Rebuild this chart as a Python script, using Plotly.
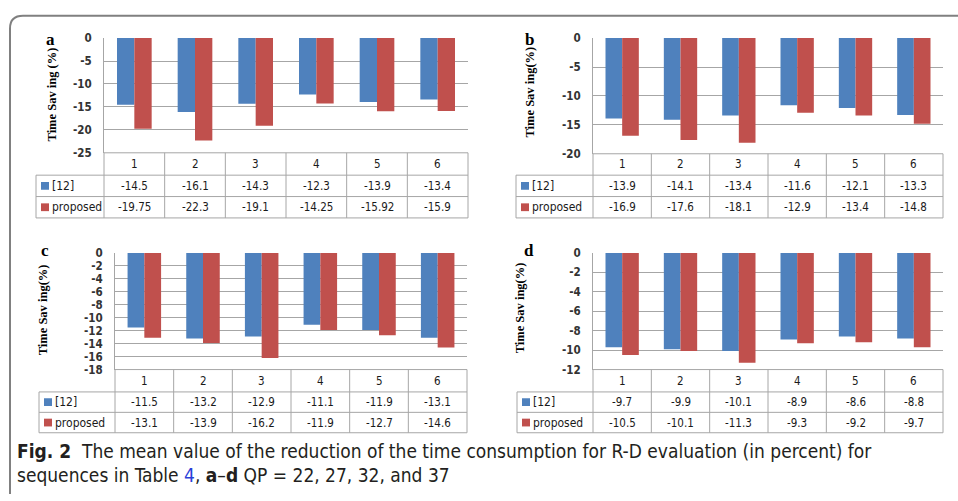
import plotly.graph_objects as go

W, H = 958, 501

categories = [1, 2, 3, 4, 5, 6]
series_names = ["[12]", "proposed"]

a_ref = [-14.5, -16.1, -14.3, -12.3, -13.9, -13.4]
a_prop = [-19.75, -22.3, -19.1, -14.25, -15.92, -15.9]
b_ref = [-13.9, -14.1, -13.4, -11.6, -12.1, -13.3]
b_prop = [-16.9, -17.6, -18.1, -12.9, -13.4, -14.8]
c_ref = [-11.5, -13.2, -12.9, -11.1, -11.9, -13.1]
c_prop = [-13.1, -13.9, -16.2, -11.9, -12.7, -14.6]
d_ref = [-9.7, -9.9, -10.1, -8.9, -8.6, -8.8]
d_prop = [-10.5, -10.1, -11.3, -9.3, -9.2, -9.7]

panel_letters = ["a", "b", "c", "d"]
y_titles = ["Time Sav ing (%)", "Time Sav ing(%)", "Time Sav ing(%)", "Time Sav ing(%)"]
y_mins = [-25, -20, -18, -12]
y_dticks = [5, 5, 2, 2]

BLUE = "#4F81BD"
RED = "#C0504D"
GRID = "#a6a6a6"
SANS = "DejaVu Sans Condensed, Liberation Sans Narrow, DejaVu Sans, sans-serif"
SERIF = "Liberation Serif, Times New Roman, serif"

# pixel geometry for each panel
geo = [
    dict(x0=104, x1=468, yt=32, yb=150, tl=36, r1=173, r2=195, r3=217, lx=50, ly=33, tx=52, ty=90),
    dict(x0=593, x1=943, yt=32, yb=151, tl=516, r1=173, r2=195, r3=217, lx=529, ly=33, tx=530, ty=88),
    dict(x0=115, x1=467, yt=253, yb=373, tl=39, r1=396, r2=417, r3=438, lx=45, ly=250, tx=43, ty=312),
    dict(x0=593, x1=943, yt=253, yb=373, tl=517, r1=396, r2=417, r3=438, lx=529, ly=250, tx=520, ty=310),
]

data_sets = [(a_ref, a_prop), (b_ref, b_prop), (c_ref, c_prop), (d_ref, d_prop)]


def fx(x):
    return x / W


def fy(y):
    return 1 - y / H


fig = go.Figure()
shapes = []
annots = []

for i, (g, (ref, prop)) in enumerate(zip(geo, data_sets)):
    n = i + 1
    xa = "x" if n == 1 else f"x{n}"
    ya = "y" if n == 1 else f"y{n}"
    fig.add_trace(go.Bar(x=categories, y=ref, name=series_names[0], marker_color=BLUE,
                         marker_line_width=0, xaxis=xa, yaxis=ya, showlegend=False))
    fig.add_trace(go.Bar(x=categories, y=prop, name=series_names[1], marker_color=RED,
                         marker_line_width=0, xaxis=xa, yaxis=ya, showlegend=False))
    xkey = "xaxis" if n == 1 else f"xaxis{n}"
    ykey = "yaxis" if n == 1 else f"yaxis{n}"
    tvals = list(range(0, y_mins[i] - 1, -y_dticks[i]))
    ttext = [f"{v:d}" for v in tvals]
    fig.layout[xkey] = dict(domain=[fx(g["x0"]), fx(g["x1"])], range=[0.5, 6.5],
                            showticklabels=False, showgrid=False, zeroline=False,
                            anchor=ya, fixedrange=True)
    fig.layout[ykey] = dict(domain=[fy(g["yb"]), fy(g["yt"])], range=[y_mins[i], 0],
                            tickvals=tvals, ticktext=ttext, showgrid=True, gridcolor=GRID,
                            gridwidth=1, zeroline=False, showline=True, linecolor=GRID,
                            linewidth=1, ticks="", ticklabelstandoff=9,
                            tickfont=dict(family=SANS, size=11.5, color="#333333", weight="bold"),
                            anchor=xa, fixedrange=True)

    # table lines
    x0, x1, yb = g["x0"], g["x1"], g["yb"]
    lc = dict(color=GRID, width=1)

    def hline(xa_, xb_, y_):
        shapes.append(dict(type="line", xref="paper", yref="paper", x0=fx(xa_), x1=fx(xb_),
                           y0=fy(y_), y1=fy(y_), line=lc))

    def vline(x_, ya_, yb_):
        shapes.append(dict(type="line", xref="paper", yref="paper", x0=fx(x_), x1=fx(x_),
                           y0=fy(ya_), y1=fy(yb_), line=lc))

    hline(x0, x1, yb)
    hline(g["tl"], x1, g["r1"])
    hline(g["tl"], x1, g["r2"])
    hline(g["tl"], x1, g["r3"])
    vline(g["tl"], g["r1"], g["r3"])
    ncat = len(categories)
    cw = (x1 - x0) / ncat
    for k in range(ncat + 1):
        vline(x0 + k * cw, yb, g["r3"])

    # header and cells
    rows = [(ref, BLUE, series_names[0]), (prop, RED, series_names[1])]
    cell_font = dict(family=SANS, size=11.5, color="#1a1a1a")
    for k, c in enumerate(categories):
        cx = x0 + (k + 0.5) * cw
        annots.append(dict(x=fx(cx), y=fy((yb + g["r1"]) / 2), xref="paper", yref="paper",
                           text=str(c), showarrow=False, xanchor="center", yanchor="middle",
                           font=cell_font))
        for (vals, col, nm), (ta, tb) in zip(rows, [(g["r1"], g["r2"]), (g["r2"], g["r3"])]):
            annots.append(dict(x=fx(cx), y=fy((ta + tb) / 2), xref="paper", yref="paper",
                               text=f"{vals[k]:g}", showarrow=False, xanchor="center",
                               yanchor="middle", font=cell_font))
    for (vals, col, nm), (ta, tb) in zip(rows, [(g["r1"], g["r2"]), (g["r2"], g["r3"])]):
        cy = (ta + tb) / 2
        sx = g["tl"] + 5
        shapes.append(dict(type="rect", xref="paper", yref="paper", x0=fx(sx), x1=fx(sx + 8),
                           y0=fy(cy + 4), y1=fy(cy - 4), line=dict(width=0), fillcolor=col))
        annots.append(dict(x=fx(sx + 9), y=fy(cy), xref="paper", yref="paper", text=nm,
                           showarrow=False, xanchor="left", yanchor="middle",
                           font=dict(family=SANS, size=12, color="#1a1a1a")))

    # panel letter and y title
    annots.append(dict(x=fx(g["lx"]), y=fy(g["ly"]), xref="paper", yref="paper",
                       text=f"<b>{panel_letters[i]}</b>", showarrow=False, xanchor="center",
                       yanchor="middle", font=dict(family=SERIF, size=17, color="#000")))
    annots.append(dict(x=fx(g["tx"]), y=fy(g["ty"]), xref="paper", yref="paper",
                       text=f"<b>{y_titles[i]}</b>", showarrow=False, textangle=-90,
                       xanchor="center", yanchor="middle",
                       font=dict(family=SERIF, size=12.5, color="#000")))

# frame
shapes.append(dict(type="path", xref="paper", yref="paper",
                   path=f"M {fx(10)},{fy(501)} L {fx(10)},{fy(22)} Q {fx(10)},{fy(9)} {fx(23)},{fy(9)} L {fx(958)},{fy(9)}",
                   line=dict(color="#808080", width=2)))

CAP = "DejaVu Sans Condensed, Liberation Sans Narrow, sans-serif"
annots.append(dict(x=fx(15), y=fy(457), xref="paper", yref="paper", showarrow=False,
                   xanchor="left", yanchor="middle",
                   text="<b>Fig. 2</b>  The mean value of the reduction of the time consumption for R-D evaluation (in percent) for",
                   font=dict(family=CAP, size=19, color="#231f20")))
annots.append(dict(x=fx(15), y=fy(481), xref="paper", yref="paper", showarrow=False,
                   xanchor="left", yanchor="middle",
                   text="sequences in Table <span style='color:#2a3fd8'>4</span>, <b>a</b>–<b>d</b> QP = 22, 27, 32, and 37",
                   font=dict(family=CAP, size=19, color="#231f20")))

fig.update_layout(width=W, height=H, autosize=False, margin=dict(l=0, r=0, t=0, b=0),
                  paper_bgcolor="white", plot_bgcolor="white", barmode="group",
                  bargap=0.4286, bargroupgap=0, shapes=shapes, annotations=annots,
                  showlegend=False)

fig.write_html("out.html", config={"displayModeBar": False},
               post_script="document.body.style.margin='0';document.body.style.overflow='hidden';")
